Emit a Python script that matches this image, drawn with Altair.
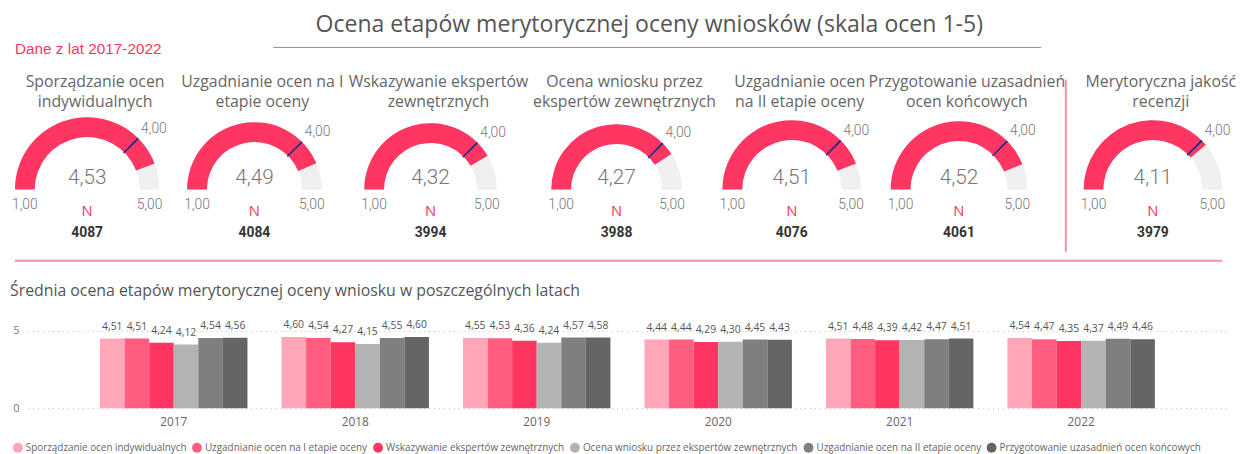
import math
import altair as alt
import pandas as pd

# ---------------- data ----------------
MAIN_TITLE = "Ocena etapów merytorycznej oceny wniosków (skala ocen 1-5)"
SUBTITLE = "Dane z lat 2017-2022"
BAR_TITLE = "Średnia ocena etapów merytorycznej oceny wniosku w poszczególnych latach"

GAUGE_TITLES = [
    ["Sporządzanie ocen", "indywidualnych"],
    ["Uzgadnianie ocen na I", "etapie oceny"],
    ["Wskazywanie ekspertów", "zewnętrznych"],
    ["Ocena wniosku przez", "ekspertów zewnętrznych"],
    ["Uzgadnianie ocen", "na II etapie oceny"],
    ["Przygotowanie uzasadnień", "ocen końcowych"],
    ["Merytoryczna jakość", "recenzji"],
]
GAUGE_VALUES = [4.53, 4.49, 4.32, 4.27, 4.51, 4.52, 4.11]
GAUGE_N = [4087, 4084, 3994, 3988, 4076, 4061, 3979]
GAUGE_MIN = 1.0
GAUGE_MAX = 5.0
GAUGE_TARGET = 4.0

YEARS = ["2017", "2018", "2019", "2020", "2021", "2022"]
SERIES = [
    "Sporządzanie ocen indywidualnych",
    "Uzgadnianie ocen na I etapie oceny",
    "Wskazywanie ekspertów zewnętrznych",
    "Ocena wniosku przez ekspertów zewnętrznych",
    "Uzgadnianie ocen na II etapie oceny",
    "Przygotowanie uzasadnień ocen końcowych",
]
V_2017 = [4.51, 4.51, 4.24, 4.12, 4.54, 4.56]
V_2018 = [4.60, 4.54, 4.27, 4.15, 4.55, 4.60]
V_2019 = [4.55, 4.53, 4.36, 4.24, 4.57, 4.58]
V_2020 = [4.44, 4.44, 4.29, 4.30, 4.45, 4.43]
V_2021 = [4.51, 4.48, 4.39, 4.42, 4.47, 4.51]
V_2022 = [4.54, 4.47, 4.35, 4.37, 4.49, 4.46]
YEAR_VALUES = [V_2017, V_2018, V_2019, V_2020, V_2021, V_2022]

SERIES_COLORS = ["#FFA6B8", "#FF5E80", "#FF3662", "#B3B3B3", "#7F7F7F", "#656565"]

# ---------------- styles ----------------
PINK = "#FF3662"
LINE_PINK = "#FF8DA6"
GAUGE_BG = "#F0F0F0"
NAVY = "#1E2A8C"
TXT = "Open Sans"
NUM = "Roboto"

GAUGE_H = 148
GAUGE_W = [154, 184, 172, 204, 150, 188, 150]
GAUGE_R = [73, 68, 67, 66, 70, 69, 70]

dummy = pd.DataFrame({"a": [0]})


def fmt(field):
    return f"replace(format(datum.{field}, '.2f'), '.', ',')"


def gauge(i):
    ro = GAUGE_R[i]
    ri = ro - 20
    df = pd.DataFrame({
        "lo": [GAUGE_MIN], "hi": [GAUGE_MAX], "value": [GAUGE_VALUES[i]],
        "target": [GAUGE_TARGET], "n": [GAUGE_N[i]],
    })
    base = alt.Chart(df).transform_calculate(
        t0="datum.target - 0.018",
        t1="datum.target + 0.018",
        vlab=fmt("value"), lolab=fmt("lo"), hilab=fmt("hi"), tlab=fmt("target"),
        nlab="format(datum.n, 'd')",
        nn="'N'",
    )
    th = alt.Scale(domain=[GAUGE_MIN, GAUGE_MAX], range=[1.5 * math.pi, 2.5 * math.pi])

    def T(f):
        return alt.Theta(f"{f}:Q", scale=th, stack=False)

    bg = base.mark_arc(innerRadius=ri, outerRadius=ro, color=GAUGE_BG).encode(theta=T("lo"), theta2="hi:Q")
    val = base.mark_arc(innerRadius=ri, outerRadius=ro, color=PINK).encode(theta=T("lo"), theta2="value:Q")
    tgt = base.mark_arc(innerRadius=ri - 1, outerRadius=ro, color=NAVY).encode(theta=T("t0"), theta2="t1:Q")
    vtext = base.mark_text(font=NUM, fontWeight=300, fontSize=21, color="#777777", dy=-12).encode(text="vlab:N")
    lotext = base.mark_text(font=NUM, fontWeight=300, fontSize=14, color="#777777", radius=ro - 10, dy=16).encode(
        theta=T("lo"), text="lolab:N")
    hitext = base.mark_text(font=NUM, fontWeight=300, fontSize=14, color="#777777", radius=ro - 10, dy=16).encode(
        theta=T("hi"), text="hilab:N")
    ttext = base.mark_text(font=NUM, fontWeight=300, fontSize=14, color="#777777", radius=ro + 4,
                           align="left", baseline="bottom").encode(theta=T("target"), text="tlab:N")
    ntext = base.mark_text(font=TXT, fontSize=15, color=PINK, dy=22).encode(text="nn:N")
    ctext = base.mark_text(font=NUM, fontWeight="bold", fontSize=14, color="#333333", dy=44).encode(text="nlab:N")
    return alt.layer(bg, val, tgt, vtext, lotext, hitext, ttext, ntext, ctext).properties(
        width=GAUGE_W[i], height=GAUGE_H,
        title=alt.TitleParams(text=GAUGE_TITLES[i], font=TXT, fontSize=16, fontWeight="normal",
                              color="#666666", lineHeight=21, offset=6, anchor="middle", dx=8),
    )


# ---------------- header ----------------
hdr = alt.Chart(dummy)
header = alt.layer(
    hdr.mark_text(font=TXT, fontSize=23.3, color="#555555").encode(
        x=alt.value(645), y=alt.value(15), text=alt.value(MAIN_TITLE)),
    hdr.mark_rule(color="#FF5C80", strokeWidth=1).encode(
        x=alt.value(265), x2=alt.value(1041), y=alt.value(37.5)),
    hdr.mark_text(font="Liberation Sans", fontSize=15.5, color=PINK, align="left").encode(
        x=alt.value(4), y=alt.value(39), text=alt.value(SUBTITLE)),
    hdr.mark_rule(color=LINE_PINK, strokeWidth=2).encode(
        x=alt.value(4), x2=alt.value(1224), y=alt.value(253)),
    hdr.mark_rule(color=LINE_PINK, strokeWidth=2).encode(
        x=alt.value(1066), y=alt.value(70), y2=alt.value(244)),
).properties(width=1229, height=40)

# ---------------- gauges ----------------
gspacer = alt.Chart(dummy).mark_point(opacity=0).encode(x=alt.value(0), y=alt.value(0)).properties(
    width=27, height=GAUGE_H)
gauges = [gauge(i) for i in range(7)]
gauge_row = alt.hconcat(*gauges[:6], gspacer, gauges[6], spacing=0, bounds="flush")

# ---------------- bars ----------------
rows = []
for y, vals in zip(YEARS, YEAR_VALUES):
    for s, v in zip(SERIES, vals):
        rows.append({"year": y, "series": s, "value": v})
bdf = pd.DataFrame(rows)

bbase = alt.Chart(bdf).transform_calculate(lbl=fmt("value")).encode(
    x=alt.X("year:N", sort=YEARS, title=None,
            scale=alt.Scale(paddingInner=0.1876, paddingOuter=0.398),
            axis=alt.Axis(domain=False, ticks=False, labelAngle=0, labelFont=TXT, labelFontSize=12,
                          labelColor="#666666", labelPadding=9)),
    xOffset=alt.XOffset("series:N", sort=SERIES, scale=alt.Scale(paddingInner=0, paddingOuter=0)),
    y=alt.Y("value:Q", title=None, scale=alt.Scale(domain=[0, 5]),
            axis=alt.Axis(values=[0, 5], grid=True, gridDash=[1, 4], gridColor="#BBBBBB", domain=False,
                          ticks=False, labelFont=TXT, labelFontSize=11, labelColor="#777777",
                          labelPadding=9)),
)
bar_layer = bbase.mark_bar().encode(
    color=alt.Color("series:N", sort=SERIES, scale=alt.Scale(domain=SERIES, range=SERIES_COLORS),
                    legend=alt.Legend(orient="none", legendX=-15, legendY=113, direction="horizontal",
                                      title=None, symbolType="circle", symbolSize=100, symbolStrokeWidth=0,
                                      labelFont=TXT, labelFontSize=10, labelColor="#666666",
                                      labelLimit=400, columnPadding=5, labelOffset=3))
)
lbl_layer = bbase.mark_text(font=TXT, fontSize=10.5, color="#555555", dy=-12).encode(text="lbl:N")
bars = alt.layer(bar_layer, lbl_layer).properties(
    width=1212, height=78,
    title=alt.TitleParams(text=BAR_TITLE, font=TXT, fontSize=16, fontWeight="normal", color="#555555",
                          anchor="start", frame="group", dx=-18, offset=22),
)
bspacer = alt.Chart(dummy).mark_point(opacity=0).encode(x=alt.value(0), y=alt.value(0)).properties(
    width=17, height=78)
bar_row = alt.hconcat(bspacer, bars, spacing=0, bounds="flush").resolve_scale(color="independent")

top_part = alt.vconcat(header, gauge_row, spacing=67, bounds="flush")
chart = alt.vconcat(top_part, bar_row, spacing=324, bounds="flush").resolve_scale(
    color="independent"
).properties(padding={"left": 0, "top": 0, "right": 0, "bottom": 0}).configure_view(stroke=None)

chart.save("out.html", embed_options={"renderer": "svg", "actions": False})
